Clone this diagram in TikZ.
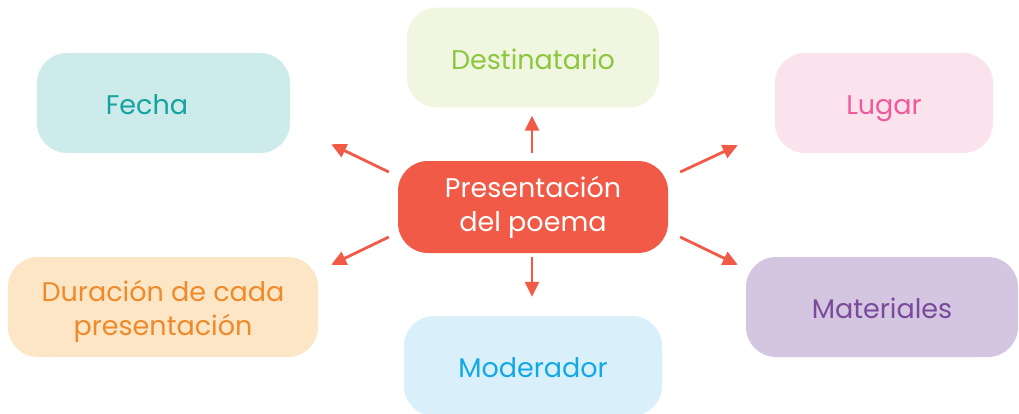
\documentclass[tikz,border=0pt]{standalone}
\usepackage{fontspec}
\setmainfont{Poppins}
\usetikzlibrary{arrows.meta,calc}
\definecolor{cred}{HTML}{F15A46}
\definecolor{fechaF}{HTML}{CDEBEA}\definecolor{fechaT}{HTML}{14A3A0}
\definecolor{destF}{HTML}{F1F6E1}\definecolor{destT}{HTML}{8DC63F}
\definecolor{lugarF}{HTML}{FAE3EC}\definecolor{lugarT}{HTML}{EE5A9B}
\definecolor{durF}{HTML}{FDE6C6}\definecolor{durT}{HTML}{EF8A2B}
\definecolor{modF}{HTML}{D9F0FA}\definecolor{modT}{HTML}{12A9E6}
\definecolor{matF}{HTML}{D4C6E0}\definecolor{matT}{HTML}{7A4A9C}
\begin{document}
\begin{tikzpicture}[x=1pt,y=-1pt,
  box/.style={rounded corners=30pt, minimum width=#1, minimum height=100pt,
    inner sep=0pt, font=\fontsize{27}{34}\selectfont, align=center,
    text height=23pt, text depth=0pt},
  arr/.style={draw=cred, line width=2.8pt, -{Triangle[length=15pt,width=14pt]}}]
\clip (0,0) rectangle (1019,413);
\node[box=270pt, minimum height=92pt, fill=cred, text=white,
  text height=49pt, text depth=0pt] (c) at (533,207) {Presentación\\del poema};
\node[box=253pt, fill=fechaF, text=fechaT] (fecha) at (163.5,103) {Fecha\hspace{33pt}};
\node[box=252pt, fill=destF, text=destT] (dest) at (533,57.5) {Destinatario};
\node[box=218pt, fill=lugarF, text=lugarT] (lugar) at (884,103) {Lugar};
\node[box=310pt, fill=durF, text=durT,
  text height=57pt, text depth=0pt] (dur) at (163,307) {Duración de cada\\presentación};
\node[box=258pt, fill=modF, text=modT] (mod) at (533,366) {Moderador};
\node[box=272pt, fill=matF, text=matT] (mat) at (882,307) {Materiales};
\draw[arr] ($(c.north)+(-1,-8)$) -- ($(dest.south)+(-1,8)$);
\draw[arr] ($(c.south)+(-1,4)$) -- ($(mod.north)+(-1,-19)$);
\draw[arr] ($(c.west)+(-9,-35)$) -- ($(fecha.south east)+(41,-9)$);
\draw[arr] ($(c.west)+(-9,30)$) -- ($(dur.north east)+(13,8)$);
\draw[arr] ($(c.east)+(12,-35)$) -- ($(lugar.south west)+(-37,-8)$);
\draw[arr] ($(c.east)+(12,30)$) -- ($(mat.north west)+(-8,8)$);
\end{tikzpicture}
\end{document}
